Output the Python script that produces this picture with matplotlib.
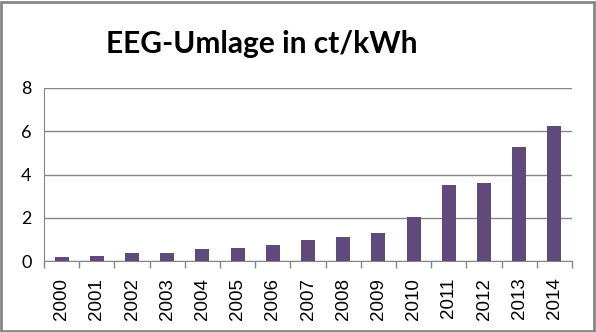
import numpy as np
import matplotlib.pyplot as plt
from matplotlib.patches import Rectangle

years = ['2000', '2001', '2002', '2003', '2004', '2005', '2006', '2007',
         '2008', '2009', '2010', '2011', '2012', '2013', '2014']
umlage = [0.20, 0.25, 0.35, 0.37, 0.54, 0.62, 0.75, 0.99,
          1.13, 1.31, 2.05, 3.53, 3.59, 5.28, 6.24]

fig = plt.figure(figsize=(5.96, 3.32), dpi=100)
ax = fig.add_axes([44/596, 1 - 261/332, (572 - 44)/596, (261 - 88)/332])

x = np.arange(len(years))
ax.bar(x, umlage, width=0.4, color='#604A7B', zorder=3)

ax.set_xlim(-0.5, len(years) - 0.5)
ax.set_ylim(0, 8)
ax.set_yticks([0, 2, 4, 6, 8])
ax.yaxis.grid(True, color='#868686', linewidth=1, zorder=0)

ax.set_xticks(x)
ax.set_xticklabels(years, rotation=90, fontsize=13.5, family='Liberation Sans')
ax.set_xticks(np.arange(-0.5, len(years)), minor=True)
ax.tick_params(axis='x', which='major', length=0, pad=12)
ax.tick_params(axis='x', which='minor', length=5, color='#868686', width=1)
ax.tick_params(axis='y', length=0, pad=9, labelsize=13)
for lab in ax.get_yticklabels():
    lab.set_family(['Lato', 'DejaVu Sans'])

for s in ['top', 'right']:
    ax.spines[s].set_visible(False)
for s in ['left', 'bottom']:
    ax.spines[s].set_color('#868686')

fig.text(262/596, 1 - 53/332, 'EEG-Umlage in ct/kWh', ha='center', va='baseline',
         fontsize=21.5, fontweight='bold', family=['Lato', 'DejaVu Sans'])

fig.patches.append(Rectangle((0.002, 0.003), 0.994, 0.992, transform=fig.transFigure,
                             fill=False, edgecolor='#868686', linewidth=2))

fig.savefig('out.png', dpi=100)
